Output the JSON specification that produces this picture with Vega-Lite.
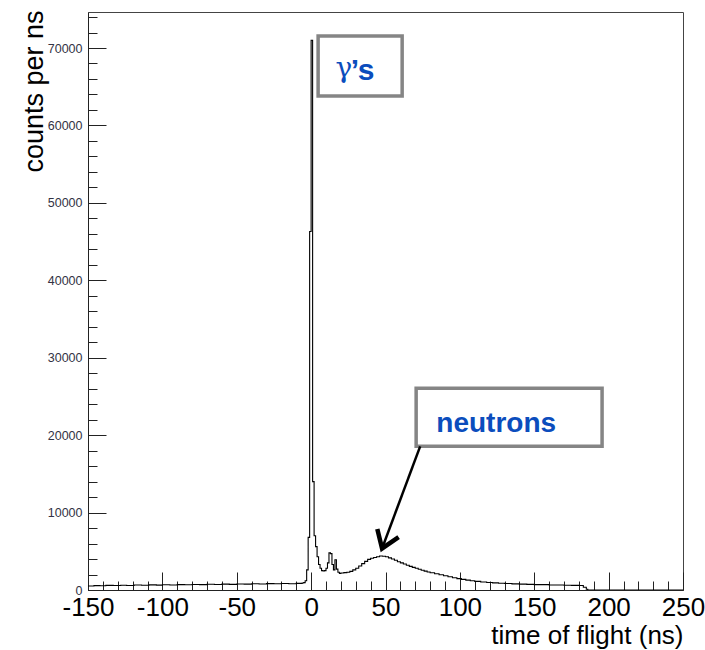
{
  "$schema": "https://vega.github.io/schema/vega-lite/v6.json",
  "width": 595,
  "height": 578,
  "autosize": {"type": "none"},
  "padding": {"left": 88, "top": 12, "right": 22, "bottom": 60},
  "background": "white",
  "config": {
    "view": {"stroke": "#444444", "strokeWidth": 1},
    "font": "Liberation Sans"
  },
  "datasets": {
    "tof": [
      {"t": -150, "counts": 520}, {"t": -146, "counts": 560}, {"t": -142, "counts": 540},
      {"t": -138, "counts": 600}, {"t": -133, "counts": 580}, {"t": -128, "counts": 620},
      {"t": -124, "counts": 590}, {"t": -119, "counts": 640}, {"t": -114, "counts": 610},
      {"t": -109, "counts": 660}, {"t": -104, "counts": 630}, {"t": -100, "counts": 680},
      {"t": -95, "counts": 650}, {"t": -90, "counts": 700}, {"t": -85, "counts": 670},
      {"t": -80, "counts": 720}, {"t": -75, "counts": 690}, {"t": -70, "counts": 740},
      {"t": -65, "counts": 710}, {"t": -60, "counts": 760}, {"t": -55, "counts": 730},
      {"t": -50, "counts": 780}, {"t": -45, "counts": 760}, {"t": -40, "counts": 800},
      {"t": -35, "counts": 770}, {"t": -30, "counts": 820}, {"t": -25, "counts": 800},
      {"t": -20, "counts": 840}, {"t": -15, "counts": 810}, {"t": -10, "counts": 860},
      {"t": -6, "counts": 900}, {"t": -5, "counts": 950}, {"t": -4, "counts": 1200},
      {"t": -3, "counts": 2600}, {"t": -2, "counts": 6800}, {"t": -1, "counts": 46300},
      {"t": 0, "counts": 71000}, {"t": 1, "counts": 14000}, {"t": 2, "counts": 7000},
      {"t": 3, "counts": 5600}, {"t": 4, "counts": 4300}, {"t": 5, "counts": 3300},
      {"t": 6, "counts": 2800}, {"t": 7, "counts": 2500}, {"t": 8, "counts": 2450},
      {"t": 9, "counts": 2500}, {"t": 10, "counts": 2800}, {"t": 11, "counts": 3500},
      {"t": 12, "counts": 4800}, {"t": 13, "counts": 4700}, {"t": 14, "counts": 3300},
      {"t": 15, "counts": 2600}, {"t": 16, "counts": 3900}, {"t": 17, "counts": 2700},
      {"t": 18, "counts": 2300}, {"t": 19, "counts": 2150}, {"t": 20, "counts": 2200},
      {"t": 22, "counts": 2250}, {"t": 24, "counts": 2300}, {"t": 26, "counts": 2400},
      {"t": 28, "counts": 2600}, {"t": 30, "counts": 2800}, {"t": 32, "counts": 3100},
      {"t": 34, "counts": 3400}, {"t": 36, "counts": 3700}, {"t": 38, "counts": 3950},
      {"t": 40, "counts": 4100}, {"t": 42, "counts": 4200}, {"t": 44, "counts": 4300},
      {"t": 46, "counts": 4400}, {"t": 48, "counts": 4350}, {"t": 50, "counts": 4300},
      {"t": 52, "counts": 4150}, {"t": 54, "counts": 4000}, {"t": 56, "counts": 3850},
      {"t": 58, "counts": 3650}, {"t": 60, "counts": 3500}, {"t": 62, "counts": 3350},
      {"t": 64, "counts": 3200}, {"t": 66, "counts": 3050}, {"t": 68, "counts": 2920},
      {"t": 70, "counts": 2800}, {"t": 72, "counts": 2680}, {"t": 74, "counts": 2560},
      {"t": 76, "counts": 2440}, {"t": 78, "counts": 2330}, {"t": 80, "counts": 2230},
      {"t": 83, "counts": 2100}, {"t": 86, "counts": 1970}, {"t": 89, "counts": 1840},
      {"t": 92, "counts": 1710}, {"t": 95, "counts": 1590}, {"t": 98, "counts": 1470},
      {"t": 101, "counts": 1370}, {"t": 104, "counts": 1280}, {"t": 107, "counts": 1190},
      {"t": 110, "counts": 1110}, {"t": 114, "counts": 1040}, {"t": 118, "counts": 970},
      {"t": 122, "counts": 920}, {"t": 126, "counts": 870}, {"t": 130, "counts": 830},
      {"t": 135, "counts": 790}, {"t": 140, "counts": 760}, {"t": 145, "counts": 730},
      {"t": 150, "counts": 700}, {"t": 155, "counts": 690}, {"t": 160, "counts": 650},
      {"t": 165, "counts": 640}, {"t": 170, "counts": 610}, {"t": 175, "counts": 600},
      {"t": 180, "counts": 580}, {"t": 183, "counts": 350}, {"t": 185, "counts": 100},
      {"t": 186, "counts": 0}, {"t": 250, "counts": 0}
    ],
    "boxes": [
      {"label": "gamma", "x1": 4.7, "x2": 61.2, "y1": 71550, "y2": 63800},
      {"label": "neutrons", "x1": 70.6, "x2": 195.6, "y1": 26050, "y2": 18550}
    ],
    "labels": [
      {"part": "greek", "text": "γ", "x": 22.0, "y": 66200, "size": 28},
      {"part": "bold", "text": "’s", "x": 34.6, "y": 65860, "size": 30},
      {"part": "bold", "text": "neutrons", "x": 124.4, "y": 20360, "size": 28}
    ],
    "arrow": [
      {"x": 73.3, "y": 18550, "x2": 47.7, "y2": 5365}
    ]
  },
  "encoding": {
    "x": {
      "type": "quantitative",
      "scale": {"domain": [-150, 250], "nice": false, "zero": false},
      "axis": {
        "title": "time of flight (ns)",
        "values": [-150, -140, -130, -120, -110, -100, -90, -80, -70, -60, -50, -40, -30, -20, -10, 0, 10, 20, 30, 40, 50, 60, 70, 80, 90, 100, 110, 120, 130, 140, 150, 160, 170, 180, 190, 200, 210, 220, 230, 240, 250],
        "labelExpr": "datum.value % 50 === 0 ? '' + datum.value : ''",
        "labelOverlap": false,
        "labelFlush": false,
        "labelBound": false,
        "labelFont": "Liberation Sans",
        "labelFontSize": 26,
        "labelColor": "black",
        "labelBaseline": "top",
        "labelPadding": 22,
        "tickSize": {"condition": {"test": "datum.value % 50 === 0", "value": -18}, "value": -9},
        "tickColor": "#222222",
        "domainColor": "#222222",
        "grid": false,
        "titleFont": "Liberation Sans",
        "titleFontSize": 26,
        "titleFontWeight": "normal",
        "titleColor": "black",
        "titleAnchor": "end",
        "titleAlign": "right",
        "titleBaseline": "alphabetic",
        "titleX": 595,
        "titleY": 53
      }
    },
    "y": {
      "type": "quantitative",
      "scale": {"domain": [0, 74650], "nice": false},
      "axis": {
        "title": "counts per ns",
        "values": [0, 2000, 4000, 6000, 8000, 10000, 12000, 14000, 16000, 18000, 20000, 22000, 24000, 26000, 28000, 30000, 32000, 34000, 36000, 38000, 40000, 42000, 44000, 46000, 48000, 50000, 52000, 54000, 56000, 58000, 60000, 62000, 64000, 66000, 68000, 70000, 72000, 74000],
        "labelExpr": "datum.value % 10000 === 0 ? '' + datum.value : ''",
        "labelOverlap": false,
        "labelFlush": false,
        "labelBound": false,
        "labelFont": "Liberation Sans",
        "labelFontSize": 12.5,
        "labelColor": "#333344",
        "labelPadding": 24,
        "tickSize": {"condition": {"test": "datum.value % 10000 === 0", "value": -18}, "value": -9},
        "tickColor": "#222222",
        "domainColor": "#222222",
        "grid": false,
        "titleFont": "Liberation Sans",
        "titleFontSize": 27,
        "titleFontWeight": "normal",
        "titleColor": "black",
        "titleAngle": -90,
        "titleAnchor": "end",
        "titleAlign": "right",
        "titleBaseline": "middle",
        "titleX": -54,
        "titleY": -2
      }
    }
  },
  "layer": [
    {
      "data": {"name": "tof"},
      "mark": {"type": "line", "interpolate": "step-after", "color": "black", "strokeWidth": 1.1, "clip": true},
      "encoding": {
        "x": {"field": "t", "type": "quantitative"},
        "y": {"field": "counts", "type": "quantitative"}
      }
    },
    {
      "data": {"name": "boxes"},
      "mark": {"type": "rect", "fill": "white", "stroke": "#858585", "strokeWidth": 3.5},
      "encoding": {
        "x": {"field": "x1", "type": "quantitative"},
        "x2": {"field": "x2"},
        "y": {"field": "y1", "type": "quantitative"},
        "y2": {"field": "y2"}
      }
    },
    {
      "data": {"name": "labels"},
      "transform": [{"filter": "datum.part === 'bold'"}],
      "mark": {"type": "text", "font": "Liberation Sans", "fontWeight": "bold", "color": "#0b4dbd", "align": "center", "baseline": "alphabetic"},
      "encoding": {
        "x": {"field": "x", "type": "quantitative"},
        "y": {"field": "y", "type": "quantitative"},
        "text": {"field": "text"},
        "size": {"field": "size", "type": "quantitative", "scale": null, "legend": null}
      }
    },
    {
      "data": {"name": "labels"},
      "transform": [{"filter": "datum.part === 'greek'"}],
      "mark": {"type": "text", "font": "DejaVu Serif", "fontWeight": "normal", "color": "#0b4dbd", "align": "center", "baseline": "alphabetic"},
      "encoding": {
        "x": {"field": "x", "type": "quantitative"},
        "y": {"field": "y", "type": "quantitative"},
        "text": {"field": "text"},
        "size": {"field": "size", "type": "quantitative", "scale": null, "legend": null}
      }
    },
    {
      "data": {"name": "arrow"},
      "mark": {"type": "rule", "color": "black", "strokeWidth": 2.5},
      "encoding": {
        "x": {"field": "x", "type": "quantitative"},
        "y": {"field": "y", "type": "quantitative"},
        "x2": {"field": "x2"},
        "y2": {"field": "y2"}
      }
    },
    {
      "data": {"name": "arrow"},
      "mark": {"type": "point", "shape": "M -0.57 -0.82 L 0 0 L 0.57 -0.82", "filled": false, "size": 1600, "strokeWidth": 4.5, "color": "black", "angle": 21, "opacity": 1},
      "encoding": {
        "x": {"field": "x2", "type": "quantitative"},
        "y": {"field": "y2", "type": "quantitative"}
      }
    }
  ]
}
